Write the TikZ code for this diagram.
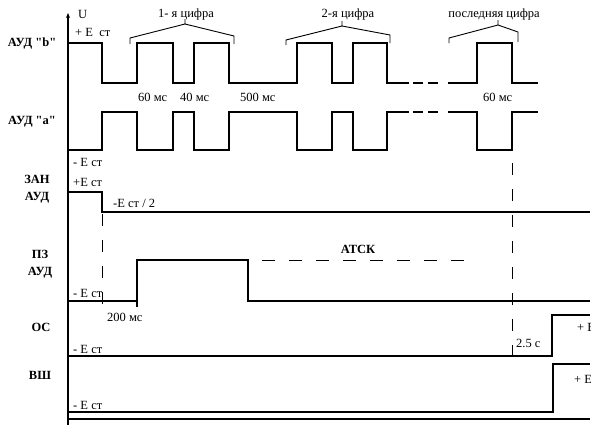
\documentclass[tikz,border=0pt]{standalone}
\usepackage{fontspec}
\setmainfont{Liberation Serif}[Ligatures=TeXOff]
\usetikzlibrary{arrows.meta}
\begin{document}
\begin{tikzpicture}[x=1pt,y=-1pt,
  sig/.style={line width=1.5pt,line join=miter},
  dsig/.style={line width=1.5pt},
  vdash/.style={line width=0.9pt,dash pattern=on 12pt off 14pt},
  atsk/.style={line width=0.9pt,dash pattern=on 13pt off 14pt},
  bracestyle/.style={line width=0.9pt},
  txt/.style={font=\fontsize{12.5}{14}\selectfont,inner sep=0pt},
  btxt/.style={font=\fontsize{12.5}{14}\selectfont\bfseries,inner sep=0pt},
  b2txt/.style={font=\fontsize{12.5}{17}\selectfont\bfseries,inner sep=0pt,align=center}]
\useasboundingbox (0,0) rectangle (605,432);
\begin{scope}
\clip (0,0) rectangle (590,432);
% axis
\draw[line width=1.3pt,-{Stealth[length=5pt,width=4pt]}] (68,425) -- (68,13);
% baseline
\draw[line width=1.1pt] (68,419) -- (590,419);
% AUD b
\draw[sig] (68,43) -- (102,43) -- (102,83) -- (137,83) -- (137,43) -- (173,43) -- (173,83)
  -- (194,83) -- (194,43) -- (229,43) -- (229,83) -- (297,83) -- (297,43) -- (332,43)
  -- (332,83) -- (353,83) -- (353,43) -- (387,43) -- (387,83) -- (409,83);
\draw[dsig] (413,83) -- (423,83) (428,83) -- (438,83);
\draw[sig] (448,83) -- (477,83) -- (477,43) -- (512,43) -- (512,83) -- (538,83);
% AUD a
\draw[sig] (68,150) -- (102,150) -- (102,112) -- (137,112) -- (137,150) -- (173,150) -- (173,112)
  -- (194,112) -- (194,150) -- (229,150) -- (229,112) -- (297,112) -- (297,150) -- (332,150)
  -- (332,112) -- (353,112) -- (353,150) -- (387,150) -- (387,112) -- (409,112);
\draw[dsig] (413,112) -- (423,112) (428,112) -- (438,112);
\draw[sig] (448,112) -- (477,112) -- (477,150) -- (512,150) -- (512,112) -- (538,112);
% ZAN
\draw[sig] (68,192) -- (102,192) -- (102,212) -- (590,212);
% PZ
\draw[sig] (68,301) -- (137,301) (137,307) -- (137,260) -- (248,260) -- (248,301) -- (590,301);
\draw[atsk] (262,260) -- (467,260);
% OS
\draw[sig] (68,356) -- (552,356) -- (552,315) -- (590,315);
% VSh
\draw[sig] (68,412) -- (553,412) -- (553,364) -- (590,364);
% vertical dashed markers
\draw[vdash] (102,214) -- (102,307);
\draw[vdash] (512,163) -- (512,362);
% braces
\draw[bracestyle] (130,44) -- (130,38) -- (185,24) -- (234,36) -- (234,44) (185,24) -- (185,19);
\draw[bracestyle] (286,45) -- (286,40) -- (342,26) -- (390,35) -- (390,43) (342,26) -- (342,21);
\draw[bracestyle] (449,43) -- (449,38) -- (498,25) -- (518,32) -- (518,42) (498,25) -- (498,20);
% texts
\node[txt] (ttl1) at (186,14) {1- я цифра};
\node[txt] (ttl2) at (348,14) {2-я цифра};
\node[txt] (ttl3) at (494,14) {последняя цифра};
\node[txt,anchor=west] (u) at (78,14) {U};
\node[txt,anchor=west] (eb) at (75,32) {+ E\ \ ст};
\node[btxt] (lb) at (32,43) {АУД "b"};
\node[btxt] (la) at (32,122) {АУД "a"};
\node[txt,anchor=west] (t60a) at (138,97) {60 мс};
\node[txt,anchor=west] (t40) at (180,97) {40 мс};
\node[txt,anchor=west] (t500) at (240,97) {500 мс};
\node[txt,anchor=west] (t60b) at (483,97) {60 мс};
\node[txt,anchor=west] (ea) at (73,162) {- E ст};
\node[b2txt] (lzan) at (37,189) {ЗАН\\АУД};
\node[txt,anchor=west] (ez) at (73,182) {+E ст};
\node[txt,anchor=west] (ez2) at (113,203) {-E ст / 2};
\node[b2txt] (lpz) at (40,264) {ПЗ\\АУД};
\node[txt,anchor=west] (epz) at (73,293) {- E ст};
\node[btxt] (atsk) at (358,249) {АТСК};
\node[txt,anchor=west] (t200) at (107,317) {200 мс};
\node[btxt] (los) at (41,327) {ОС};
\node[txt,anchor=west] (eos) at (73,349) {- E ст};
\node[txt,anchor=west] (t25) at (516,343) {2.5 с};
\node[txt,anchor=west] (eos2) at (577,327) {+ E ст};
\node[btxt] (lvs) at (40,375) {ВШ};
\node[txt,anchor=west] (evs) at (73,405) {- E ст};
\node[txt,anchor=west] (evs2) at (574,379) {+ E ст};
\end{scope}
\end{tikzpicture}
\end{document}
